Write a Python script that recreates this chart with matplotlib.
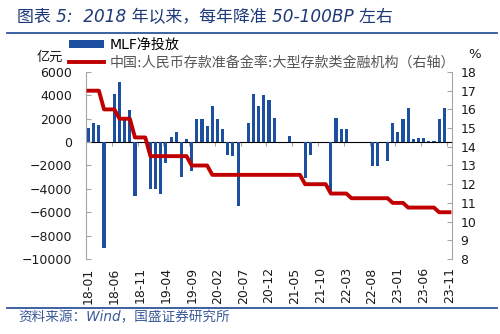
import numpy as np
import pandas as pd
import matplotlib
matplotlib.use('Agg')
import matplotlib.pyplot as plt
from matplotlib.lines import Line2D
from matplotlib.patches import Patch

plt.rcParams['font.family'] = ['DejaVu Sans', 'Noto Sans CJK SC']

# monthly categories, 2018-01 .. 2023-11
months = pd.period_range('2018-01', '2023-11', freq='M').strftime('%y-%m').tolist()

# MLF net injection (亿元); no value yet for 23-11
mlf_net = [
    1170, 1600, 1460, -9100, 0, 4140, 5140, 1900, 2740, -4600, 0, 0,               # 2018
    -4000, -4000, -4450, -1770, 450, 830, -3000, 250, -2500, 2000, 2000, 1400,      # 2019
    3050, 2000, 1100, -1100, -1150, -5450, 0, 1600, 4100, 3100, 4050, 3600,         # 2020
    2050, 0, 0, 500, 0, 0, -3050, -1100, 0, 0, 0, -4450,                            # 2021
    2050, 1100, 1100, 0, 0, 0, 0, -2050, -2050, 0, -1600, 1600,                     # 2022
    860, 2000, 2900, 250, 320, 370, 100, 100, 2000, 2900, np.nan,                   # 2023
]

# required reserve ratio, large depository institutions (%)
rrr_large = [
    17, 17, 17, 16, 16, 16, 15.5, 15.5, 15.5, 14.5, 14.5, 14.5,
    13.5, 13.5, 13.5, 13.5, 13.5, 13.5, 13.5, 13.5, 13, 13, 13, 13,
    12.5, 12.5, 12.5, 12.5, 12.5, 12.5, 12.5, 12.5, 12.5, 12.5, 12.5, 12.5,
    12.5, 12.5, 12.5, 12.5, 12.5, 12.5, 12, 12, 12, 12, 12, 11.5,
    11.5, 11.5, 11.5, 11.25, 11.25, 11.25, 11.25, 11.25, 11.25, 11.25, 11.25, 11,
    11, 11, 10.75, 10.75, 10.75, 10.75, 10.75, 10.75, 10.5, 10.5, 10.5,
]

left_ticks = list(range(-10000, 6001, 2000))
right_ticks = list(range(8, 19))

BAR_BLUE = '#1c4f9f'
LINE_RED = '#c00000'
AXIS_GRAY = '#a6a6a6'
HEAD_BLUE = '#1f3a78'
RULE_BLUE = '#2e5597'

fig = plt.figure(figsize=(5, 3.34), dpi=100)
ax = fig.add_axes([0.172, 0.2246, 0.732, 0.5598])

x = np.arange(len(months))
ax.bar(x, mlf_net, width=0.6, color=BAR_BLUE, zorder=2)
ax.set_xlim(-0.5, len(months) - 0.5)
ax.set_ylim(left_ticks[0], left_ticks[-1])
ax.set_yticks(left_ticks)
ax.set_xticks(x[::5], months[::5], rotation=90)
ax.tick_params(axis='x', length=0, pad=6, labelsize=9, labelcolor='#1a1a1a')
ax.tick_params(axis='y', direction='in', length=3.5, color=AXIS_GRAY,
               pad=10, labelsize=9, labelcolor='#1a1a1a')
for side in ('top', 'right', 'bottom'):
    ax.spines[side].set_visible(False)
ax.spines['left'].set_color(AXIS_GRAY)

# category axis crossing at zero
ylo, yhi = ax.get_ylim()
zero_axis = ax.secondary_xaxis((0 - ylo) / (yhi - ylo))
zero_axis.set_xticks(np.arange(4.5, len(months) - 1, 5), labels=[])
zero_axis.tick_params(direction='in', length=3, color=AXIS_GRAY)
zero_axis.spines['bottom'].set_color(AXIS_GRAY)
zero_axis.spines['bottom'].set_linewidth(0.8)

ax2 = ax.twinx()
ax2.plot(x, rrr_large, color=LINE_RED, lw=2.8, zorder=3)
ax2.set_ylim(right_ticks[0], right_ticks[-1])
ax2.set_yticks(right_ticks)
ax2.tick_params(axis='y', direction='in', length=3.5, color=AXIS_GRAY,
                pad=6, labelsize=9, labelcolor='#1a1a1a')
for side in ('top', 'left', 'bottom'):
    ax2.spines[side].set_visible(False)
ax2.spines['right'].set_color(AXIS_GRAY)

handles = [Patch(facecolor=BAR_BLUE, edgecolor='none'),
           Line2D([], [], color=LINE_RED, lw=2.8)]
labels = ['MLF净投放', '中国:人民币存款准备金率:大型存款类金融机构（右轴）']
leg = fig.legend(handles, labels, loc='upper left', bbox_to_anchor=(0.138, 0.887),
                 frameon=False, fontsize=10.1, handlelength=2.5, handleheight=0.5,
                 handletextpad=0.4, labelspacing=0.3, borderpad=0, borderaxespad=0)
leg.get_texts()[1].set_color('#555555')

fig.text(0.074, 1 - 57 / 334, '亿元', fontsize=9.5, va='center', color='#1a1a1a')
fig.text(0.936, 1 - 55 / 334, '%', fontsize=9.5, va='center', color='#1a1a1a')

# header and footer
fig.text(0.034, 0.948, '图表 5:  2018 年以来，每年降准 50-100BP 左右', fontsize=12.2,
         style='italic', color=HEAD_BLUE, va='center')
fig.add_artist(Line2D([0.014, 0.994], [0.902, 0.902], color=RULE_BLUE, lw=1.3))
fig.add_artist(Line2D([0.014, 0.994], [0.078, 0.078], color=RULE_BLUE, lw=1.3))
fig.text(0.036, 0.051, '资料来源：Wind，国盛证券研究所', fontsize=9.8,
         style='italic', color='#3a5a98', va='center')

fig.savefig('out.png', dpi=100)
